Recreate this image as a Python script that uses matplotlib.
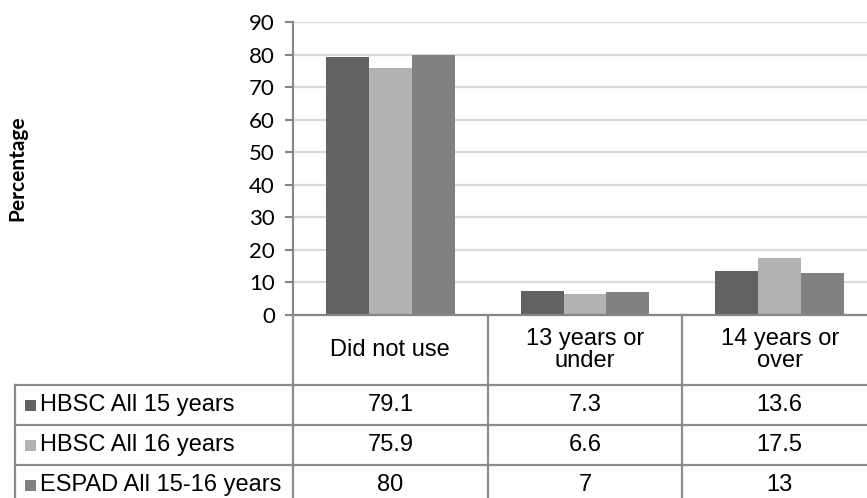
import matplotlib
matplotlib.use("Agg")
import matplotlib.pyplot as plt
import matplotlib.transforms as mtransforms
from matplotlib.lines import Line2D
from matplotlib.patches import Rectangle
import numpy as np

categories = ["Did not use", "13 years or\nunder", "14 years or\nover"]
series_names = ["HBSC All 15 years", "HBSC All 16 years", "ESPAD All 15-16 years"]
hbsc15 = [79.1, 7.3, 13.6]
hbsc16 = [75.9, 6.6, 17.5]
espad = [80, 7, 13]
value_labels = [["79.1", "7.3", "13.6"], ["75.9", "6.6", "17.5"], ["80", "7", "13"]]
colors = ["#626262", "#B2B2B2", "#818181"]
yticks = [0, 10, 20, 30, 40, 50, 60, 70, 80, 90]

W, H = 867, 498
fig = plt.figure(figsize=(W / 100, H / 100), dpi=100)

def fx(px):
    return px / W

def fy(py):
    return 1 - py / H

ax_left, ax_right, ax_top, ax_bottom = 293, 877, 22, 315
ax = fig.add_axes([fx(ax_left), fy(ax_bottom), fx(ax_right - ax_left), (ax_bottom - ax_top) / H])

series = [hbsc15, hbsc16, espad]
x = np.arange(len(categories))
bw = 0.22
for i, (vals, c) in enumerate(zip(series, colors)):
    ax.bar(x + (i - 1) * bw, vals, width=bw, color=c, zorder=3)

ax.set_xlim(-0.5, len(categories) - 0.5)
ax.set_ylim(0, 90)
ax.set_yticks(yticks)
ax.set_yticklabels([str(t) for t in yticks], fontfamily="Lato", fontsize=16)
ax.set_xticks([])
ax.grid(axis="y", color="#D9D9D9", linewidth=1.6, zorder=0)
for s in ["top", "right", "bottom"]:
    ax.spines[s].set_visible(False)
ax.spines["left"].set_color("#868686")
ax.spines["left"].set_linewidth(1.5)
ax.tick_params(axis="y", direction="out", length=6, width=1.5, color="#868686", pad=7)
ax.axhline(0, color="#868686", linewidth=1.6, zorder=4, clip_on=False)

fig.text(fx(17), fy(168), "Percentage", rotation=90, ha="center", va="center",
         fontfamily="Lato", fontweight="bold", fontsize=15)

# Data table below the chart
line_c = "#8C8C8C"
lw = 1.6
blend = mtransforms.blended_transform_factory(ax.transData, fig.transFigure)
row_edges = [315, 385, 425, 465, 505]
table_left = 15
for ry in row_edges[1:]:
    fig.add_artist(Line2D([fx(table_left), 1.02], [fy(ry), fy(ry)], color=line_c, lw=lw,
                          transform=fig.transFigure, clip_on=False))
for b in np.arange(len(categories) + 1) - 0.5:
    fig.add_artist(Line2D([b, b], [fy(row_edges[0]), fy(row_edges[-1])], color=line_c, lw=lw,
                          transform=blend, clip_on=False))
fig.add_artist(Line2D([fx(table_left), fx(table_left)], [fy(row_edges[1]), fy(row_edges[-1])],
                      color=line_c, lw=lw, transform=fig.transFigure, clip_on=False))

tfont = dict(fontfamily="Liberation Sans", fontsize=17)
for xi, cat in zip(x, categories):
    fig.text(xi, fy((row_edges[0] + row_edges[1]) / 2), cat, ha="center", va="center",
             transform=blend, linespacing=1.0, **tfont)

for r, (name, c, labels) in enumerate(zip(series_names, colors, value_labels)):
    yc = (row_edges[r + 1] + row_edges[r + 2]) / 2
    fig.add_artist(Rectangle((fx(25), fy(yc + 6)), 11 / W, 11 / H, facecolor=c,
                             edgecolor="none", transform=fig.transFigure))
    fig.text(fx(40), fy(yc), name, ha="left", va="center", **tfont)
    for xi, lab in zip(x, labels):
        fig.text(xi, fy(yc), lab, ha="center", va="center", transform=blend, **tfont)

fig.savefig("out.png", dpi=100)
